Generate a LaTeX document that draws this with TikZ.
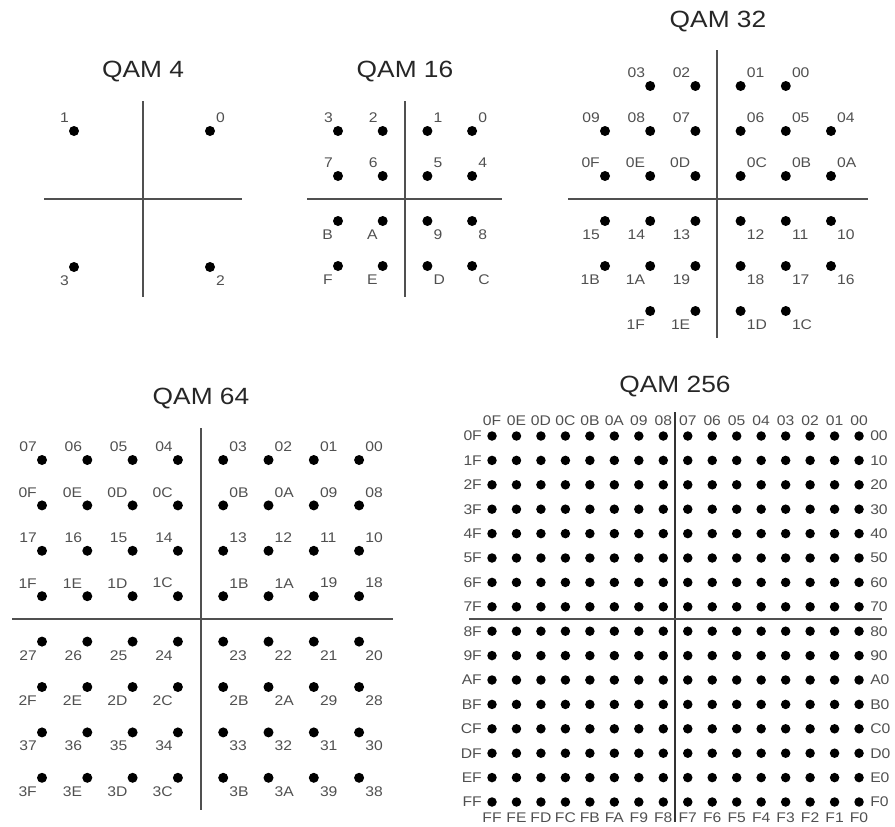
\documentclass[tikz,border=0pt]{standalone}
\usepackage{fontspec}
\setmainfont[FakeStretch=1.12]{Liberation Sans}
\usetikzlibrary{positioning}
\definecolor{cLabel}{RGB}{80,80,80}
\definecolor{cAxis}{RGB}{80,80,80}
% one hex digit
\newcommand{\hx}[1]{\ifcase#1 0\or1\or2\or3\or4\or5\or6\or7\or8\or9\or A\or B\or C\or D\or E\or F\fi}
% which corner the label sits in: row, column, half size
\newcommand{\qcorner}[3]{%
  \ifnum#1<#3 \ifnum#2<#3 \def\qc{ul}\else\def\qc{ur}\fi
  \else\ifnum#2<#3 \def\qc{ll}\else\def\qc{lr}\fi\fi}
\tikzset{
    qdot/.style    ={circle, fill=black, inner sep=0pt, minimum size=10pt},
    smalldot/.style={qdot, minimum size=9.5pt},
    axisline/.style={draw=cAxis, line width=1.4pt},
    qtitle/.style  ={font=\fontsize{23.5}{26}\selectfont, text=black!85, inner sep=0pt},
    lbl/.style     ={font=\fontsize{14}{16}\selectfont, text=cLabel, inner sep=0pt},
    ul/.style={anchor=south east, xshift=-5pt, yshift=8pt},
    ur/.style={anchor=south west, xshift=6pt, yshift=8pt},
    ll/.style={anchor=north east, xshift=-5pt, yshift=-8.5pt},
    lr/.style={anchor=north west, xshift=6pt, yshift=-8.5pt},
}
\begin{document}
\begin{tikzpicture}[x=1pt, y=-1pt]
\useasboundingbox (0,0) rectangle (895,827);

% QAM 4
\node[qtitle] (t4) at (143,72) {QAM 4};
\coordinate (a4n) at (143,101); \coordinate (a4s) at (143,297);
\coordinate (a4w) at (44,199);  \coordinate (a4e) at (242,199);
\draw[axisline] (a4n) -- (a4s);
\draw[axisline] (a4w) -- (a4e);
\foreach \r in {0,1}
  \foreach \c in {0,1} {
    \pgfmathtruncatemacro{\v}{2*\r+1-\c}
    \qcorner{\r}{\c}{1}
    \node[qdot] (s4-\r-\c) at (74+136*\c,131+136*\r) {};
    \node[lbl,\qc] (s4-\r-\c-t) at (s4-\r-\c) {\v};
  }

% QAM 16
\node[qtitle] (t16) at (405,72) {QAM 16};
\coordinate (a16n) at (405,101); \coordinate (a16s) at (405,297);
\coordinate (a16w) at (307,199); \coordinate (a16e) at (502,199);
\draw[axisline] (a16n) -- (a16s);
\draw[axisline] (a16w) -- (a16e);
\foreach \r in {0,...,3}
  \foreach \c in {0,...,3} {
    \pgfmathtruncatemacro{\v}{4*\r+3-\c}
    \qcorner{\r}{\c}{2}
    \node[qdot] (s16-\r-\c) at (338+44.7*\c,131+45*\r) {};
    \node[lbl,\qc] (s16-\r-\c-t) at (s16-\r-\c) {\hx{\v}};
  }

% QAM 32
\node[qtitle] (t32) at (718,22) {QAM 32};
\coordinate (a32n) at (717,50);  \coordinate (a32s) at (717,338);
\coordinate (a32w) at (568,199); \coordinate (a32e) at (868,199);
\draw[axisline] (a32n) -- (a32s);
\draw[axisline] (a32w) -- (a32e);
\foreach \r/\ca/\cb/\s in {0/1/4/4, 1/0/5/9, 2/0/5/15, 3/0/5/21, 4/0/5/27, 5/1/4/32}
  \foreach \c in {\ca,...,\cb} {
    \pgfmathtruncatemacro{\v}{\s-\c}
    \pgfmathtruncatemacro{\hi}{\v/16}
    \pgfmathtruncatemacro{\lo}{\v-16*\hi}
    \qcorner{\r}{\c}{3}
    \node[qdot] (s32-\r-\c) at (605+45.2*\c,86+45*\r) {};
    \node[lbl,\qc] (s32-\r-\c-t) at (s32-\r-\c) {\hx{\hi}\hx{\lo}};
  }

% QAM 64
\node[qtitle] (t64) at (201,399) {QAM 64};
\coordinate (a64n) at (201,428); \coordinate (a64s) at (201,810);
\coordinate (a64w) at (12,619);  \coordinate (a64e) at (393,619);
\draw[axisline] (a64n) -- (a64s);
\draw[axisline] (a64w) -- (a64e);
\foreach \r in {0,...,7}
  \foreach \c in {0,...,7} {
    \pgfmathtruncatemacro{\v}{8*\r+7-\c}
    \pgfmathtruncatemacro{\hi}{\v/16}
    \pgfmathtruncatemacro{\lo}{\v-16*\hi}
    \qcorner{\r}{\c}{4}
    \node[qdot] (s64-\r-\c) at (42+45.3*\c,460+45.4*\r) {};
    \node[lbl,\qc] (s64-\r-\c-t) at (s64-\r-\c) {\hx{\hi}\hx{\lo}};
  }

% QAM 256
\node[qtitle] (t256) at (675,387) {QAM 256};
\coordinate (a256n) at (675,412); \coordinate (a256s) at (675,822);
\coordinate (a256w) at (469,619); \coordinate (a256e) at (882,619);
\draw[axisline, line width=2pt, draw=black!80] (a256n) -- (a256s);
\draw[axisline] (a256w) -- (a256e);
\foreach \r in {0,...,15}
  \foreach \c in {0,...,15}
    \node[smalldot] (s256-\r-\c) at (492+24.47*\c,436+24.4*\r) {};
\foreach \c in {0,...,15} {
  \pgfmathtruncatemacro{\v}{15-\c}
  \node[lbl] (top-\c) at ([yshift=15.5pt]s256-0-\c) {0\hx{\v}};
  \node[lbl] (bot-\c) at ([yshift=-16pt]s256-15-\c) {F\hx{\v}};
}
\foreach \r in {0,...,15} {
  \node[lbl, anchor=east] (lft-\r) at ([xshift=-10pt]s256-\r-0) {\hx{\r}F};
  \node[lbl, anchor=west] (rgt-\r) at ([xshift=11pt]s256-\r-15) {\hx{\r}0};
}
\end{tikzpicture}
\end{document}
